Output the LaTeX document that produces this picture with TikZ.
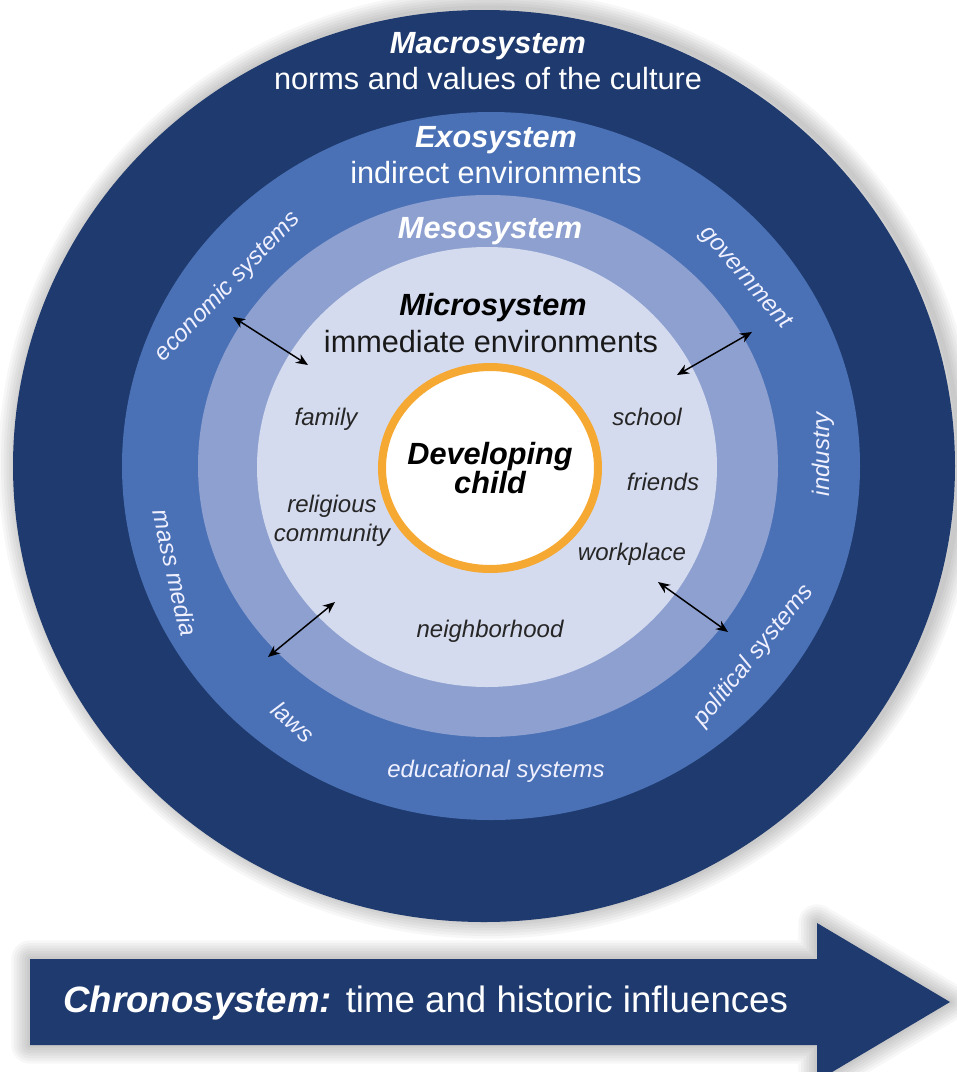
\documentclass[tikz,border=0pt]{standalone}
\usepackage{fontspec}
\setmainfont{Liberation Sans}
\usetikzlibrary{positioning, arrows.meta}

\definecolor{macrocol}{RGB}{31,58,110}
\definecolor{exocol}{RGB}{74,113,182}
\definecolor{mesocol}{RGB}{141,160,208}
\definecolor{microcol}{RGB}{213,219,238}
\definecolor{ringcol}{RGB}{245,168,50}

\tikzset{
  head/.style={font=\fontsize{23}{27}\selectfont\bfseries\itshape, anchor=base, inner sep=0},
  sub/.style={font=\fontsize{23}{27}\selectfont, anchor=base, inner sep=0},
  place/.style={font=\fontsize{18}{22}\selectfont\itshape, text=black!85, align=center, inner sep=0},
  outside/.style={font=\fontsize{18}{22}\selectfont\itshape, text=white!94!blue, inner sep=0},
  link/.style={<->, line width=1.1pt},
}

\begin{document}
\begin{tikzpicture}[x=0.75pt, y=-0.75pt, >={Stealth[length=9pt, width=7.5pt]}]
\useasboundingbox (0,0) rectangle (957,1072);
\fill[white] (0,0) rectangle (957,1072);

% soft shadows
\foreach \s in {4,8,...,28}
{
    \draw[black, opacity=0.03, line width=\s pt] (488,464) ellipse [x radius=471, y radius=456];
    \draw[black, opacity=0.03, line width=\s pt, line join=round]
        (30,959) -- (817,959) -- (817,923) -- (950,1002) -- (817,1081) -- (817,1045) -- (30,1045) -- cycle;
}

% the nested systems
\fill[macrocol] (484,466) ellipse [x radius=471, y radius=456];
\fill[exocol] (491,466) ellipse [x radius=369, y radius=354];
\fill[mesocol] (488,466) ellipse [x radius=290, y radius=271];
\fill[microcol] (487,467) ellipse [x radius=230, y radius=220];
\draw[ringcol, line width=6pt, fill=white] (490,468) ellipse [x radius=108, y radius=101];

% chronosystem
\fill[macrocol] (30,959) -- (817,959) -- (817,923) -- (950,1002) -- (817,1081) -- (817,1045) -- (30,1045) -- cycle;
\node[anchor=base west, inner sep=0, text=white, font=\fontsize{27.5}{32}\selectfont] (chrono) at (63,1012)
    {{\bfseries\itshape Chronosystem:} time and historic influences};

% ring titles
\node[head, text=white] (macro) at (488,53) {Macrosystem};
\node[sub, text=white] (macrosub) at (488,89) {norms and values of the culture};
\node[head, text=white] (exo) at (496,147) {Exosystem};
\node[sub, text=white] (exosub) at (496,183) {indirect environments};
\node[head, text=white] (meso) at (490,238) {Mesosystem};
\node[head, text=black] (micro) at (493,315) {Microsystem};
\node[sub, text=black!90] (microsub) at (491,352) {immediate environments};
\node[font=\fontsize{23}{21}\selectfont\bfseries\itshape, align=center, inner sep=0] (child) at (490,468) {Developing\\child};

% microsystem settings
\node[place, anchor=base] (family) at (326,425) {family};
\node[place] (religion) at (332,521) {religious\\community};
\node[place, anchor=base] (hood) at (490,637) {neighborhood};
\node[place, anchor=base] (school) at (647,425) {school};
\node[place, anchor=base] (friends) at (663,490) {friends};
\node[place, anchor=base] (work) at (632,560) {workplace};

% exosystem settings
\node[outside, rotate=46] (economy) at (228,287) {economic systems};
\node[outside, rotate=-49] (gov) at (745,278) {government};
\node[outside, rotate=90] (industry) at (823,454) {industry};
\node[outside, rotate=-77] (media) at (175,573) {mass media};
\node[outside, rotate=-42] (laws) at (293,722) {laws};
\node[outside] (edu) at (496,771) {educational systems};
\node[outside, rotate=51] (politics) at (754,656) {political systems};

% mesosystem links
\coordinate (ula) at (233,317);
\coordinate (ulb) at (308,365);
\coordinate (lla) at (335,602);
\coordinate (llb) at (268,657);
\coordinate (ura) at (752,332);
\coordinate (urb) at (677,375);
\coordinate (lra) at (658,582);
\coordinate (lrb) at (728,632);
\draw[link] (ula) -- (ulb);
\draw[link] (lla) -- (llb);
\draw[link] (ura) -- (urb);
\draw[link] (lra) -- (lrb);

\end{tikzpicture}
\end{document}
